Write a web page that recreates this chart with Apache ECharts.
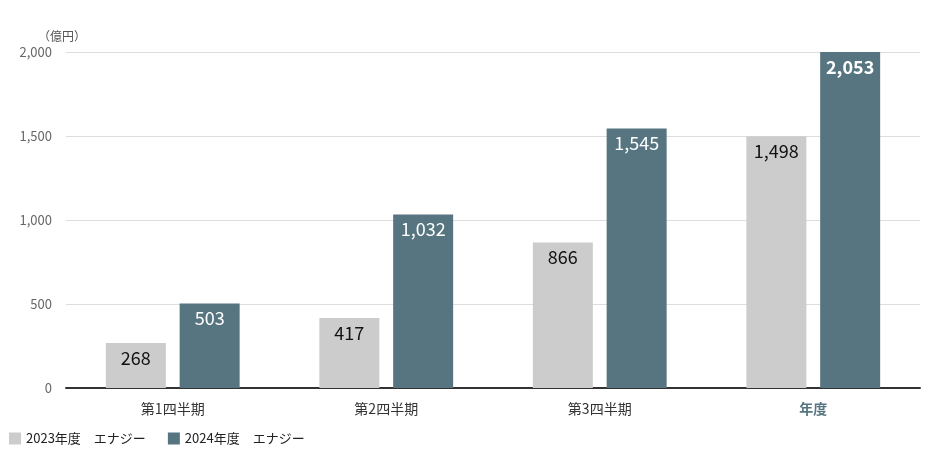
<!DOCTYPE html><html><head><meta charset="utf-8"><script src="https://cdn.jsdelivr.net/npm/echarts@6/dist/echarts.min.js"></script></head><body style="margin:0"><div id="c" style="width:936px;height:456px"></div><script>
const categories=['第1四半期','第2四半期','第3四半期','年度'];
const s2023=[268,417,866,1498];
const s2024=[503,1032,1545,2053];
const F='"Noto Sans CJK JP","Noto Sans",sans-serif';
const c=echarts.init(document.getElementById('c'));
c.setOption({
 animation:false,
 textStyle:{fontFamily:F},
 grid:{left:66,right:16,top:52,bottom:68},
 legend:{left:4,bottom:6,itemWidth:12,itemHeight:12,itemGap:22,icon:'rect',textStyle:{fontSize:13,color:'#222',fontFamily:F},data:['2023年度　エナジー','2024年度　エナジー']},
 xAxis:{type:'category',data:categories,axisTick:{show:false},axisLine:{lineStyle:{color:'#333',width:2}},
  axisLabel:{fontSize:14,color:'#333',margin:14,formatter:(v,i)=>i===3?'{b|'+v+'}':v,rich:{b:{fontSize:14,fontWeight:'bold',color:'#577580',fontFamily:F}}}},
 yAxis:{type:'value',min:0,max:2000,interval:500,name:'（億円）',nameGap:10,nameTextStyle:{color:'#555',fontSize:12,align:'right',padding:[0,-20,0,0]},
  axisLabel:{color:'#666',fontSize:13,margin:14,formatter:v=>v.toLocaleString('en-US')},splitLine:{lineStyle:{color:'#ddd'}}},
 series:[
  {name:'2023年度　エナジー',type:'bar',data:s2023,barWidth:60,barGap:'23%',itemStyle:{color:'#cccccc'},
   label:{show:true,position:'insideTop',distance:6,color:'#111',fontSize:18,formatter:p=>p.value.toLocaleString('en-US')}},
  {name:'2024年度　エナジー',type:'bar',data:s2024.map((v,i)=>i===3?{value:v,label:{fontWeight:'bold'}}:v),barWidth:60,itemStyle:{color:'#577580'},
   label:{show:true,position:'insideTop',distance:6,color:'#fff',fontSize:18,formatter:p=>p.value.toLocaleString('en-US')}}
 ]
});
</script></body></html>
